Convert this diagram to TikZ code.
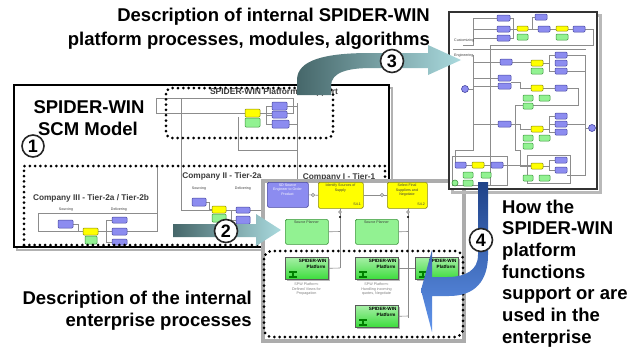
\documentclass[tikz,border=0pt]{standalone}
\usepackage{fontspec}
\setmainfont{Liberation Sans}
\definecolor{bfill}{HTML}{8C8CF0}
\definecolor{bdraw}{HTML}{4646A0}
\definecolor{yfill}{HTML}{FFFF00}
\definecolor{ydraw}{HTML}{8A8A10}
\definecolor{gfill}{HTML}{92F292}
\definecolor{gdraw}{HTML}{3C963C}
\definecolor{tealdark}{HTML}{46676A}
\definecolor{teallight}{HTML}{AADADE}
\definecolor{bluedark}{HTML}{1F4288}
\definecolor{bluelight}{HTML}{6094EC}
\definecolor{lgray}{HTML}{8C8C8C}
\definecolor{tgray}{HTML}{3C3C3C}
\definecolor{spwgreen}{HTML}{3CDC3C}
\newcommand\mkB[4]{\filldraw[sbox,fill=bfill,draw=bdraw] (#1,#2) rectangle (#3,#4);}
\newcommand\mkY[4]{\filldraw[sbox,fill=yfill,draw=ydraw] (#1,#2) rectangle (#3,#4);}
\newcommand\mkG[4]{\filldraw[sbox,fill=gfill,draw=gdraw] (#1,#2) rectangle (#3,#4);}
\tikzset{
  sbox/.style={line width=0.5pt, rounded corners=1pt},
  big/.style={font=\fontsize{18.5}{22}\selectfont\bfseries, inner sep=0pt},
  dotframe/.style={draw=black, line width=3pt, line cap=round, dash pattern=on 0pt off 5.3pt},
  num/.style={circle, draw=black!85, line width=1.6pt, fill=white, minimum size=23pt, inner sep=0pt, font=\fontsize{18}{18}\selectfont\bfseries},
  wire/.style={draw=lgray, line width=0.6pt},
  tiny/.style={font=\fontsize{3.6}{4.2}\selectfont, text=tgray, inner sep=0pt, align=center},
  complabel/.style={font=\fontsize{8.3}{9}\selectfont\bfseries, text=tgray, inner sep=0pt},
  procbox/.style={rounded corners=1.5pt, line width=0.6pt, anchor=north west, inner sep=0pt},
  spwb/.style={draw=gray!70!black, line width=0.6pt, top color=white!55!spwgreen, bottom color=spwgreen,
     minimum width=43pt, minimum height=22pt, anchor=north west, inner sep=0pt},
  spwt/.style={font=\fontsize{4.6}{5}\selectfont\bfseries, inner sep=0pt},
  caption/.style={font=\fontsize{3.7}{4.4}\selectfont, text=gray, align=center, inner sep=0pt, anchor=north}
}
\newcommand\spwbox[3]{%
  \fill[gray!55] (#2+2,#3+2) rectangle (#2+45,#3+24);
  \node[spwb] (#1) at (#2,#3) {};
  \node[spwt, anchor=north east] at ([xshift=-2pt,yshift=-2pt]#1.north east) {SPIDER-WIN};
  \node[spwt, anchor=north east] at ([xshift=-3pt,yshift=-8pt]#1.north east) {Platform};
  \fill[green!50!black] (#2+4,#3+14) rectangle (#2+12,#3+16);
  \fill[green!50!black] (#2+7,#3+16) rectangle (#2+9,#3+19);
  \fill[green!50!black] (#2+4,#3+19) rectangle (#2+12,#3+21);
}
\begin{document}
\begin{tikzpicture}[x=1pt,y=-1pt]
\useasboundingbox (0,0) rectangle (635,349);
\fill[white] (0,0) rectangle (635,349);

% ---------- main SCM box ----------
\draw[gray!60, line width=2.5pt] (17,88) rectangle (392,250);
\draw[black, line width=2.5pt, fill=white] (14,85) rectangle (389,247);

% support area
\draw[wire] (156,98) rectangle (293,113);
\draw[wire] (181,98) -- (181,210);
\draw[wire] (297,103) -- (297,181);
\draw[wire] (238,117) -- (238,150) -- (297,150);
\draw[wire] (260,113) -- (266,113) -- (266,106) -- (272,106);
\draw[wire] (266,113) -- (266,124) -- (272,124);
\draw[wire] (266,115) -- (272,115);
\draw[wire] (289,124) -- (297,124);
\draw[wire] (287,106) -- (297,106);
\mkY{245}{109}{260}{117}
\mkG{245}{118}{260}{127}
\mkB{272}{102}{287}{110}
\mkB{272}{111}{287}{118}
\mkB{272}{120}{289}{128}

% Company II
\draw[wire] (181,210) -- (263,210);
\draw[wire] (206,202) -- (209,202) -- (209,209) -- (212,209);
\draw[wire] (226,210) -- (231,210) -- (231,220) -- (236,220);
\mkB{192}{198}{206}{206}
\mkY{212}{206}{226}{213}
\mkG{212}{214}{226}{222}
\mkB{236}{207}{250}{213}
\mkB{236}{216}{250}{224}
\node[tiny] at (199,189) {Sourcing};
\node[tiny] at (243,189) {Delivering};

% Company III
\draw[wire] (38,213) rectangle (157,231);
\draw[wire] (157,166) -- (157,213);
\draw[wire] (73,224) -- (78,224) -- (78,231) -- (83,231);
\draw[wire] (98,231) -- (106,231) -- (106,220) -- (112,220);
\draw[wire] (106,231) -- (112,231);
\draw[wire] (106,231) -- (106,242) -- (112,242);
\mkB{58}{220}{73}{228}
\mkY{83}{228}{98}{235}
\mkG{85}{236}{97}{244}
\mkB{112}{217}{127}{223}
\mkB{112}{228}{127}{235}
\mkB{112}{239}{127}{245}
\node[tiny] at (66,210) {Sourcing};
\node[tiny] at (119,210) {Delivering};

% dotted frames in main box
\draw[dotframe, rounded corners=6pt] (166,88) rectangle (333,138);
\draw[dotframe] (24,245) -- (24,166) -- (385,166) -- (385,181);
\draw[dotframe] (24,245) -- (263,245);
\node[complabel, font=\fontsize{8.5}{9}\selectfont\bfseries, anchor=base] at (274,94) {SPIDER-WIN Platform - Support};
\node[complabel, anchor=base] at (91,200) {Company III - Tier-2a / Tier-2b};
\node[complabel, anchor=base] at (222,178) {Company II - Tier-2a};
\node[complabel, anchor=base] at (339,179) {Company I - Tier-1};

\node[big, anchor=base] at (89,113) {SPIDER-WIN};
\node[big, anchor=base] at (88,135) {SCM Model};

% ---------- enterprise box ----------
\draw[line width=3.5pt, draw=gray!65, fill=white] (263,181) rectangle (464,341);
\node[procbox, fill=bfill, draw=bdraw, minimum width=41pt, minimum height=25pt] (sd) at (267,182) {};
\node[tiny, text=white, anchor=north] at (287.5,184) {SD Source\\Engineer to Order\\Product};
\node[procbox, fill=yfill, draw=ydraw, minimum width=45pt, minimum height=26pt] (y1) at (318,182) {};
\node[tiny, anchor=north] at (340.5,184) {Identify Sources of\\Supply};
\node[tiny, anchor=south east] at (361,206) {S4.1};
\node[procbox, fill=yfill, draw=ydraw, minimum width=40pt, minimum height=26pt] (y2) at (387,182) {};
\node[tiny, anchor=north] at (407,184) {Select Final\\Suppliers and\\Negotiate};
\node[tiny, anchor=south east] at (425,206) {S4.2};
\node[procbox, fill=gfill, draw=gdraw, minimum width=43pt, minimum height=25pt] (sp1) at (285,219) {};
\node[tiny, anchor=north] at (306.5,221) {Source Planner};
\node[procbox, fill=gfill, draw=gdraw, minimum width=43pt, minimum height=25pt] (sp2) at (355,219) {};
\node[tiny, anchor=north] at (376.5,221) {Source Planner};

\draw[wire] (sd.east) -- (y1.west);
\draw[wire] (y1.east) -- (y2.west);
\draw[wire, fill=white] (313,195) circle (1.6pt);
\draw[wire, fill=white] (382,195) circle (1.6pt);
\draw[wire] (340,208) -- (340,268);
\draw[wire] (408,208) -- (408,318);
\draw[wire] (sp1.east) -- (340,231.5);
\draw[wire] (sp2.east) -- (408,231.5);
\draw[wire, fill=white] (340,212) circle (1.4pt);
\draw[wire, fill=white] (408,212) circle (1.4pt);
\fill[black] (340,217) circle (1.2pt);
\fill[black] (408,217) circle (1.2pt);

\spwbox{spa}{285}{257}
\spwbox{spb}{355}{257}
\spwbox{spc}{415}{257}
\spwbox{spd}{355}{305}
\draw[wire] (spa.east) -- (340,268);
\draw[wire] (spb.east) -- (spc.west);
\draw[wire] (spd.east) -- (408,316);
\node[caption] at (306.5,283) {SPW Platform:\\Defined Views for\\Propagation};
\node[caption] at (376.5,283) {SPW Platform:\\Handling incoming\\quotes, Negotiate};

\draw[dotframe, rounded corners=8pt] (264,251) rectangle (463,337);

% ---------- right process diagram ----------
\draw[gray!55, line width=3pt] (452,15) rectangle (600,192);
\draw[gray!40!black, line width=1.2pt, fill=white] (449,12) rectangle (597,189);
\draw[wire] (453,49) -- (586,49);
\draw[wire] (473,18) -- (473,45) -- (463,45);
\draw[wire] (473,18) -- (497,18);
\draw[wire] (473,29) -- (497,29);
\draw[wire] (473,38) -- (497,38);
\draw[wire] (510,18) -- (513,18) -- (513,38) -- (510,38);
\draw[wire] (510,29) -- (517,29);
\draw[wire] (528,29) -- (538,29);
\draw[wire] (532,29) -- (532,17) -- (535,17);
\draw[wire] (550,29) -- (556,29);
\draw[wire] (568,29) -- (573,29);
\draw[wire] (585,29) -- (593,29) -- (593,45) -- (490,45) -- (490,186);
\draw[wire] (473,55) -- (473,150) -- (455,150) -- (455,162);
\draw[wire] (469,89) -- (473,89);
\draw[wire] (473,62) -- (500,62);
\draw[wire] (473,78) -- (498,78);
\draw[wire] (473,86) -- (498,86);
\draw[wire] (473,124) -- (498,124);
\draw[wire] (512,62) -- (531,62);
\draw[wire] (511,82) -- (520,82) -- (520,88) -- (531,88);
\draw[wire] (511,124) -- (520,124) -- (520,129) -- (531,129);
\draw[wire] (543,63) -- (549,63) -- (549,55) -- (555,55);
\draw[wire] (549,63) -- (549,71) -- (555,71);
\draw[wire] (543,88) -- (555,88);
\draw[wire] (543,129) -- (549,129) -- (549,116) -- (555,116);
\draw[wire] (549,129) -- (549,132) -- (555,132);
\draw[wire] (549,124) -- (555,124);
\draw[wire] (567,55) -- (585,55) -- (585,175) -- (567,175);
\draw[wire] (567,71) -- (585,71);
\draw[wire] (567,88) -- (578,88) -- (578,105) -- (515,105) -- (515,150) -- (520,150) -- (520,166) -- (531,166);
\draw[wire] (567,124) -- (585,124);
\draw[wire] (585,128) -- (588,128);
\draw[wire] (466,165) -- (472,165);
\draw[wire] (484,165) -- (491,165);
\draw[wire] (503,165) -- (531,165);
\draw[wire] (543,166) -- (549,166) -- (549,160) -- (555,160);
\draw[wire] (549,166) -- (549,170) -- (555,170);
\draw[wire] (452,156) rectangle (507,185);
\draw[wire] (527,155) rectangle (570,183);
\foreach \a/\b/\c/\d in {497/15/510/21,497/26/510/32,497/35/510/41,535/14/547/20,538/26/550/32,573/26/585/32,
  500/59/512/65,555/52/567/58,555/60/567/66,555/68/567/74,498/75/511/81,498/83/511/89,555/85/567/91,
  498/121/511/127,555/113/567/119,555/121/567/127,555/129/567/135,455/162/466/168,491/162/503/168,
  555/157/567/163,555/167/567/173}{\mkB{\a}{\b}{\c}{\d}}
\foreach \a/\b/\c/\d in {517/26/528/31,556/26/568/31,531/60/543/66,531/85/543/91,531/126/543/132,
  472/162/484/168,531/163/543/169}{\mkY{\a}{\b}{\c}{\d}}
\foreach \a/\b/\c/\d in {517/34/528/40,556/34/568/40,531/68/543/74,523/95/533/101,539/95/550/101,
  523/103/533/109,523/135/533/141,539/135/550/141,523/143/533/149,463/172/473/178,463/180/473/186,
  481/172/491/178,523/175/533/181,539/175/550/181}{\mkG{\a}{\b}{\c}{\d}}
\filldraw[fill=bfill, draw=bdraw, line width=0.6pt] (465,89) circle (3.5pt);
\filldraw[fill=bfill, draw=bdraw, line width=0.6pt] (592,128) circle (3.5pt);
\filldraw[fill=gfill, draw=gdraw, line width=0.6pt] (455,183) circle (3pt);
\node[tiny, anchor=west] at (454,41) {Customizing};
\node[tiny, anchor=west] at (454,56) {Engineering};

% ---------- arrows ----------
\shade[left color=tealdark, right color=teallight]
  (297,95) -- (297,80) .. controls (297,60) and (325,53) .. (370,53) -- (428,53) -- (428,45) -- (461,60)
  -- (428,75) -- (428,68) -- (372,68) .. controls (348,68) and (331,72) .. (331,86) -- (331,95) -- cycle;
\shade[left color=tealdark, right color=teallight]
  (173,224) -- (256,224) -- (256,214) -- (281,230) -- (256,246) -- (256,237) -- (173,237) -- cycle;
\shade[top color=bluedark, bottom color=bluelight]
  (478,182) -- (478,255) .. controls (478,270) and (466,277) .. (447,277) -- (432,277) -- (432,250)
  -- (421,290) -- (432,332) -- (432,296) -- (449,296) .. controls (475,296) and (488,281) .. (488,255)
  -- (488,182) -- cycle;

% ---------- circled numbers ----------
\node[num, minimum size=22pt] (n1) at (33,146) {1};
\node[num] (n2) at (226,231) {2};
\node[num] (n3) at (392,61) {3};
\node[num] (n4) at (481,240) {4};

% ---------- big texts ----------
\node[big, anchor=base east] at (430,21) {Description of internal SPIDER-WIN};
\node[big, anchor=base east] at (430,45) {platform processes, modules, algorithms};
\node[big, anchor=base east] at (252,304) {Description of the internal};
\node[big, anchor=base east] at (252,326) {enterprise processes};
\foreach \t [count=\i from 0] in {How the, SPIDER-WIN, platform, functions, support or are, used in the, enterprise}
  \node[big, anchor=base west] at (502,213+21.7*\i) {\t};
\end{tikzpicture}
\end{document}
